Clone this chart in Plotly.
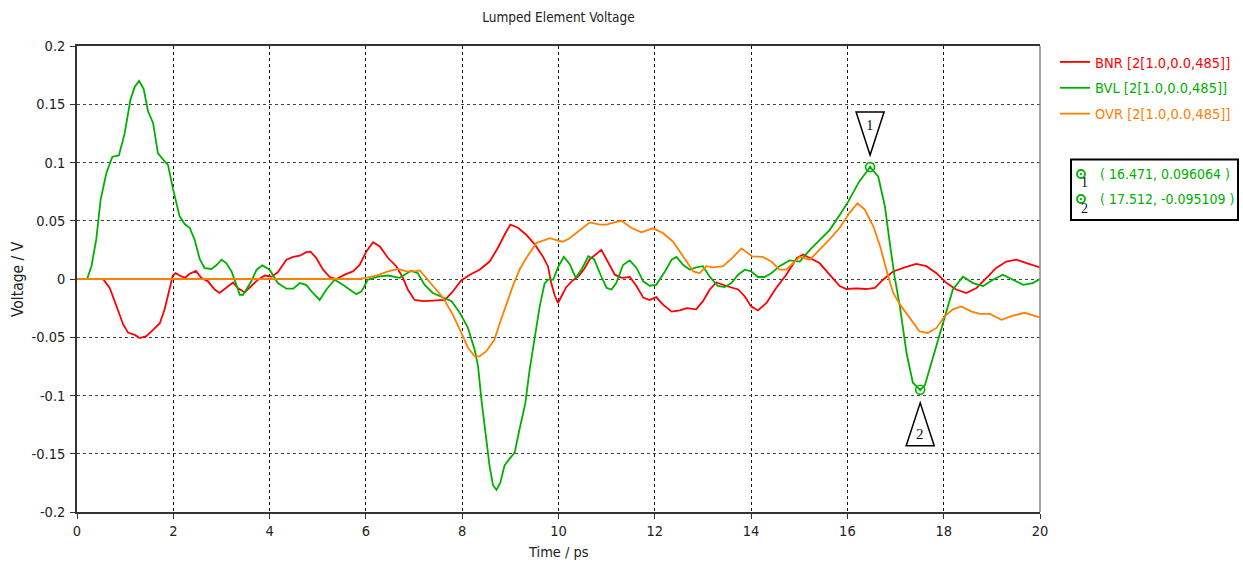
import plotly.graph_objects as go

# ---------------- data ----------------
t_bnr = [0, 0.54, 0.68, 0.82, 0.96, 1.06, 1.20, 1.30, 1.44, 1.58, 1.72, 1.82, 1.93, 1.99, 2.05, 2.13,
         2.24, 2.34, 2.47, 2.58, 2.72, 2.86, 2.96, 3.10, 3.24, 3.34, 3.48, 3.62, 3.76, 3.90, 4.04, 4.17,
         4.35, 4.49, 4.63, 4.76, 4.85, 4.97, 5.11, 5.25, 5.39, 5.56, 5.73, 5.87, 6.01, 6.15, 6.29, 6.46,
         6.63, 6.77, 6.87, 7.01, 7.19, 7.39, 7.64, 7.78, 7.98, 8.16, 8.36, 8.57, 8.74, 8.88, 9.00, 9.16,
         9.33, 9.51, 9.68, 9.78, 9.85, 9.92, 9.99, 10.06, 10.16, 10.30, 10.41, 10.54, 10.65, 10.89, 11.03,
         11.17, 11.31, 11.48, 11.62, 11.76, 11.89, 12.03, 12.17, 12.35, 12.52, 12.66, 12.86, 13.00, 13.14,
         13.28, 13.49, 13.73, 13.87, 14.00, 14.14, 14.32, 14.52, 14.73, 14.95, 15.08, 15.22, 15.42, 15.63,
         15.84, 15.98, 16.19, 16.39, 16.57, 16.74, 16.95, 17.19, 17.43, 17.64, 17.85, 18.06, 18.26, 18.47,
         18.68, 18.89, 19.09, 19.30, 19.51, 19.72, 20.0]
v_bnr = [0, 0, -0.0077, -0.0235, -0.039, -0.046, -0.048, -0.0507, -0.049, -0.0436, -0.038, -0.026, -0.006,
         0.003, 0.005, 0.003, 0.001, 0.0045, 0.007, 0.001, -0.002, -0.009, -0.012, -0.0077, -0.003, -0.0077,
         -0.0115, -0.006, -0.0006, 0.003, 0.002, 0.0057, 0.0166, 0.019, 0.020, 0.023, 0.0235, 0.018, 0.008,
         0.0017, 0.0, 0.0037, 0.0065, 0.012, 0.0237, 0.0315, 0.028, 0.018, 0.011, 0.001, -0.009, -0.018,
         -0.019, -0.0186, -0.018, -0.012, -0.0012, 0.0037, 0.008, 0.015, 0.0266, 0.038, 0.0466, 0.044, 0.038,
         0.0295, 0.019, 0.011, -0.0035, -0.014, -0.0206, -0.015, -0.007, -0.001, 0.002, 0.009, 0.017, 0.025,
         0.015, 0.0037, 0.001, 0.0017, -0.006, -0.016, -0.018, -0.0155, -0.022, -0.028, -0.027, -0.025,
         -0.026, -0.019, -0.009, -0.003, -0.006, -0.009, -0.015, -0.0235, -0.027, -0.0206, -0.0077, 0.0037,
         0.018, 0.021, 0.018, 0.0137, 0.0037, -0.006, -0.0086, -0.008, -0.0086, -0.0077, -0.0006, 0.0065,
         0.010, 0.013, 0.011, 0.005, -0.0035, -0.009, -0.012, -0.0077, 0.001, 0.0095, 0.015, 0.0166, 0.0137,
         0.010]

t_bvl = [0, 0.21, 0.30, 0.40, 0.49, 0.61, 0.735, 0.87, 0.99, 1.11, 1.20, 1.29, 1.385, 1.475, 1.58, 1.68,
         1.79, 1.89, 1.99, 2.13, 2.24, 2.34, 2.44, 2.55, 2.65, 2.79, 2.90, 3.00, 3.10, 3.21, 3.31, 3.38,
         3.45, 3.62, 3.73, 3.85, 4.00, 4.17, 4.35, 4.49, 4.63, 4.76, 4.90, 5.04, 5.18, 5.35, 5.52, 5.80,
         5.91, 6.04, 6.25, 6.46, 6.70, 6.94, 7.08, 7.22, 7.39, 7.60, 7.78, 7.95, 8.12, 8.26, 8.33, 8.40,
         8.49, 8.57, 8.64, 8.71, 8.79, 8.88, 8.99, 9.09, 9.19, 9.31, 9.40, 9.51, 9.61, 9.71, 9.78, 9.89,
         10.0, 10.11, 10.23, 10.36, 10.49, 10.62, 10.74, 10.88, 11.0, 11.10, 11.20, 11.34, 11.48, 11.62,
         11.76, 11.89, 12.03, 12.21, 12.35, 12.45, 12.59, 12.73, 12.86, 13.0, 13.14, 13.31, 13.45, 13.59,
         13.73, 13.87, 14.0, 14.14, 14.28, 14.42, 14.59, 14.80, 15.01, 15.22, 15.42, 15.63, 15.84, 16.01,
         16.25, 16.471, 16.64, 16.78, 16.88, 16.98, 17.09, 17.23, 17.36, 17.512, 17.61, 17.78, 17.99, 18.19,
         18.40, 18.61, 18.82, 19.02, 19.23, 19.44, 19.65, 19.85, 20.0]
v_bvl = [0, 0.0, 0.011, 0.034, 0.068, 0.091, 0.105, 0.106, 0.125, 0.154, 0.165, 0.170, 0.163, 0.144, 0.134,
         0.108, 0.1025, 0.098, 0.078, 0.054, 0.047, 0.044, 0.034, 0.017, 0.0094, 0.0086, 0.012, 0.0166,
         0.0137, 0.0065, -0.005, -0.0135, -0.0135, -0.002, 0.008, 0.0117, 0.008, -0.0035, -0.0083, -0.0083,
         -0.0035, -0.005, -0.012, -0.018, -0.009, -0.0006, -0.005, -0.013, -0.0106, -0.0006, 0.002, 0.003,
         0.001, 0.007, 0.005, -0.005, -0.012, -0.016, -0.019, -0.029, -0.042, -0.061, -0.075, -0.104, -0.135,
         -0.161, -0.177, -0.181, -0.175, -0.160, -0.154, -0.149, -0.129, -0.107, -0.078, -0.049, -0.0235,
         -0.004, -0.0006, -0.0006, 0.011, 0.019, 0.013, 0.001, 0.009, 0.0195, 0.017, 0.003, -0.0077, -0.009,
         -0.0035, 0.012, 0.016, 0.0095, -0.002, -0.0058, -0.005, 0.0065, 0.0166, 0.019, 0.012, 0.008, 0.010,
         0.011, 0.002, -0.006, -0.007, -0.0035, 0.0037, 0.008, 0.0065, 0.0017, 0.0017, 0.005, 0.011, 0.016,
         0.015, 0.025, 0.033, 0.042, 0.055, 0.066, 0.084, 0.096064, 0.088, 0.062, 0.031, 0.002, -0.0235,
         -0.064, -0.089, -0.095109, -0.091, -0.0665, -0.038, -0.009, 0.002, -0.0035, -0.006, -0.0006, 0.0037,
         -0.0006, -0.005, -0.0035, 0.0]

t_ovr = [0, 5.87, 6.0, 6.22, 6.46, 6.67, 6.84, 7.01, 7.12, 7.26, 7.43, 7.60, 7.81, 7.98, 8.12, 8.26, 8.36,
         8.50, 8.67, 8.78, 8.92, 9.06, 9.19, 9.33, 9.47, 9.54, 9.68, 9.82, 9.99, 10.09, 10.23, 10.37, 10.44,
         10.65, 10.86, 11.0, 11.06, 11.31, 11.51, 11.72, 11.96, 12.17, 12.38, 12.59, 12.80, 12.93, 13.07,
         13.21, 13.42, 13.63, 13.80, 14.02, 14.24, 14.42, 14.59, 14.73, 14.87, 15.01, 15.22, 15.42, 15.63,
         15.84, 16.05, 16.21, 16.36, 16.54, 16.68, 16.82, 16.95, 17.12, 17.29, 17.50, 17.67, 17.85, 18.02,
         18.19, 18.37, 18.58, 18.75, 18.96, 19.20, 19.44, 19.68, 20.0]
v_ovr = [0, 0, 0.001, 0.003, 0.0065, 0.0086, 0.0065, 0.0065, 0.0074, 0.001, -0.0077, -0.016, -0.031, -0.046,
         -0.059, -0.0665, -0.0665, -0.062, -0.052, -0.038, -0.0206, -0.005, 0.008, 0.018, 0.0266, 0.031,
         0.033, 0.035, 0.033, 0.032, 0.035, 0.0395, 0.042, 0.0486, 0.0466, 0.0466, 0.0475, 0.050, 0.044,
         0.040, 0.0435, 0.0395, 0.032, 0.019, 0.0065, 0.005, 0.011, 0.010, 0.011, 0.019, 0.0263, 0.0195,
         0.019, 0.015, 0.008, 0.008, 0.0137, 0.019, 0.0166, 0.025, 0.034, 0.044, 0.057, 0.065, 0.0595, 0.045,
         0.028, 0.0065, -0.012, -0.0235, -0.0335, -0.045, -0.0464, -0.042, -0.032, -0.026, -0.0235, -0.028,
         -0.030, -0.030, -0.035, -0.0315, -0.029, -0.033]

series_names = ["BNR [2[1.0,0.0,485]]", "BVL [2[1.0,0.0,485]]", "OVR [2[1.0,0.0,485]]"]
marker_ids = ["1", "2"]
marker_t = [16.471, 17.512]
marker_v = [0.096064, -0.095109]

x_ticks = [0, 2, 4, 6, 8, 10, 12, 14, 16, 18, 20]
y_ticks = [0.2, 0.15, 0.1, 0.05, 0, -0.05, -0.1, -0.15, -0.2]
y_tick_text = ["0.2", "0.15", "0.1", "0.05", "0", "-0.05", "-0.1", "-0.15", "-0.2"]

# ---------------- styling ----------------
RED, GREEN, ORANGE = "#ff0000", "#00b000", "#ff8000"
FONT = "DejaVu Sans Condensed, DejaVu Sans, sans-serif"
W, H = 1243, 562
ML, MR, MT, MB = 77, 203, 46, 50
PW, PH = W - ML - MR, H - MT - MB


def px_x(px):
    return (px - ML) / PW


def px_y(py):
    return (H - MB - py) / PH


fig = go.Figure()
for k, (t, v, name, col) in enumerate([(t_bnr, v_bnr, series_names[0], RED),
                                       (t_bvl, v_bvl, series_names[1], GREEN),
                                       (t_ovr, v_ovr, series_names[2], ORANGE)]):
    fig.add_trace(go.Scatter(x=t, y=v, mode="lines", legendgroup=f"g{k}",
                             name=f'<span style="color:{col}">{name}</span>',
                             line=dict(color=col, width=1.8)))

# marker points on the BVL curve
fig.add_trace(go.Scatter(x=marker_t, y=marker_v, mode="markers", showlegend=False,
                         marker=dict(symbol="circle-open-dot", size=9, color=GREEN,
                                     line=dict(width=1.6, color=GREEN))))

shapes = []
annotations = []
# triangles pointing at the markers
for i, (mt, mv) in enumerate(zip(marker_t, marker_v)):
    if i == 0:
        path = "M -14,55 L 14,55 L 0,12 Z"
        shift = 42
    else:
        path = "M -14,-56 L 14,-56 L 0,-13 Z"
        shift = -44
    shapes.append(dict(type="path", xref="x", yref="y", xsizemode="pixel", ysizemode="pixel",
                       xanchor=mt, yanchor=mv, path=path, fillcolor="white",
                       line=dict(color="black", width=1.5)))
    annotations.append(dict(x=mt, y=mv, xref="x", yref="y", text=marker_ids[i], showarrow=False,
                            yshift=shift, font=dict(family="Liberation Serif, serif", size=15,
                                                    color="#111133")))

# readout box
shapes.append(dict(type="rect", xref="paper", yref="paper",
                   x0=px_x(1071), x1=px_x(1238), y0=px_y(220), y1=px_y(159.5),
                   line=dict(color="black", width=2), fillcolor="white"))
for i, (mt, mv) in enumerate(zip(marker_t, marker_v)):
    cy = 174 + 25 * i
    shapes.append(dict(type="circle", xref="paper", yref="paper",
                       x0=px_x(1077), x1=px_x(1085), y0=px_y(cy + 4), y1=px_y(cy - 4),
                       line=dict(color=GREEN, width=1.8)))
    shapes.append(dict(type="circle", xref="paper", yref="paper",
                       x0=px_x(1080.2), x1=px_x(1081.8), y0=px_y(cy + 0.8), y1=px_y(cy - 0.8),
                       line=dict(color=GREEN, width=1), fillcolor=GREEN))
    annotations.append(dict(x=px_x(1084), y=px_y(cy + 9), xref="paper", yref="paper",
                            text=marker_ids[i], showarrow=False, xanchor="center", yanchor="middle",
                            font=dict(family="Liberation Serif, serif", size=14, color="#111133")))
    annotations.append(dict(x=px_x(1098), y=px_y(cy), xref="paper", yref="paper",
                            text=f"( {mt:.3f}, {mv:.6f} )", showarrow=False, xanchor="left",
                            yanchor="middle", font=dict(family=FONT, size=14, color=GREEN)))

# axis titles
annotations.append(dict(x=0.5, y=px_y(552), xref="paper", yref="paper", text="Time / ps",
                        showarrow=False, xanchor="center", yanchor="middle",
                        font=dict(family=FONT, size=14.5, color="#222222")))
annotations.append(dict(x=px_x(18), y=px_y(279), xref="paper", yref="paper", text="Voltage / V",
                        showarrow=False, xanchor="center", yanchor="middle", textangle=-90,
                        font=dict(family=FONT, size=15.5, color="#222222")))

# right border (grey)
shapes.append(dict(type="line", xref="paper", yref="paper", x0=1, x1=1, y0=0, y1=1,
                   line=dict(color="#888888", width=1.5)))

fig.update_layout(
    width=W, height=H, autosize=False,
    margin=dict(l=ML, r=MR, t=MT, b=MB, autoexpand=False),
    paper_bgcolor="white", plot_bgcolor="white",
    font=dict(family=FONT, size=14, color="#222222"),
    title=dict(text="Lumped Element Voltage", x=0.5, xref="paper", y=0.97, yanchor="middle",
               font=dict(family=FONT, size=13.5, color="#222222")),
    xaxis=dict(range=[0, 20], tickvals=x_ticks, ticks="outside", ticklen=5, tickcolor="#333",
               showline=True, linecolor="#333", linewidth=1.5, mirror=True, automargin=False,
               showgrid=True, gridcolor="#111", griddash="dot", gridwidth=1, zeroline=False,
               tickfont=dict(size=14.5)),
    yaxis=dict(range=[-0.2, 0.2], tickvals=y_ticks, ticktext=y_tick_text, ticks="outside",
               ticklen=5, tickcolor="#333", showline=True, linecolor="#333", linewidth=1.5,
               automargin=False, ticklabelstandoff=2,
               showgrid=True, gridcolor="#444", griddash="dot", gridwidth=1, zeroline=False,
               tickfont=dict(size=14.5)),
    legend=dict(x=px_x(1055), y=1.0, xanchor="left", yanchor="top", font=dict(size=14.5),
                bgcolor="rgba(0,0,0,0)", tracegroupgap=4),
    shapes=shapes, annotations=annotations,
)

fig.write_html("out.html")
